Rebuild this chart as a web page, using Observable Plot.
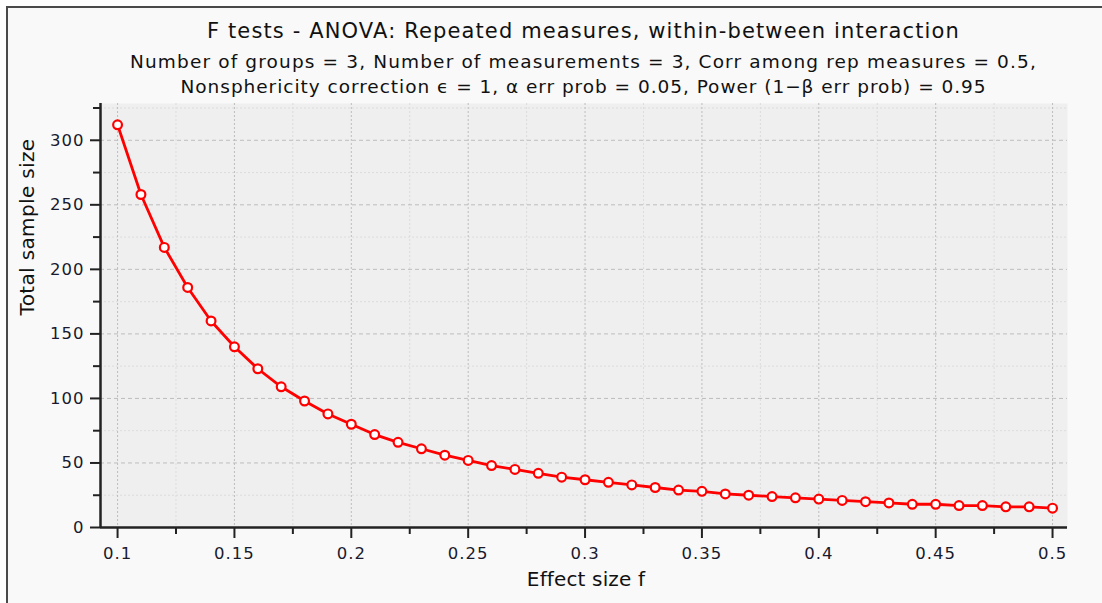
<!DOCTYPE html>
<html>
<head>
<meta charset="utf-8">
<script src="https://cdn.jsdelivr.net/npm/d3@7"></script>
<script src="https://cdn.jsdelivr.net/npm/@observablehq/plot@0.6"></script>
<style>
  html, body { margin: 0; padding: 0; background: #ffffff; overflow: hidden; }
  #wrap {
    position: absolute; left: 6px; top: 6px; width: 1150px; height: 650px;
    border-top: 2px solid #4a4a4a; border-left: 2px solid #4a4a4a;
    background: #f9f9f9; font-family: "DejaVu Sans", sans-serif; color: #111;
  }
  .t { position: absolute; left: 92px; width: 967px; text-align: center; white-space: nowrap; }
  .t span { display: inline-block; }
  #title { top: 11px; font-size: 21px; }
  #sub1 { top: 43px; font-size: 18.5px; }
  #sub2 { top: 68px; font-size: 18.5px; }
  #chart { position: absolute; left: 0; top: 84px; }
</style>
</head>
<body>
<div id="wrap">
  <div class="t" id="title"><span>F tests - ANOVA: Repeated measures, within-between interaction</span></div>
  <div class="t" id="sub1"><span>Number of groups = 3, Number of measurements = 3, Corr among rep measures = 0.5,</span></div>
  <div class="t" id="sub2"><span>Nonsphericity correction ϵ = 1, α err prob = 0.05, Power (1−β err prob) = 0.95</span></div>
  <div id="chart"></div>
</div>
<script>
const effectSize = [0.10,0.11,0.12,0.13,0.14,0.15,0.16,0.17,0.18,0.19,0.20,0.21,0.22,0.23,0.24,0.25,0.26,0.27,0.28,0.29,0.30,0.31,0.32,0.33,0.34,0.35,0.36,0.37,0.38,0.39,0.40,0.41,0.42,0.43,0.44,0.45,0.46,0.47,0.48,0.49,0.50];
const totalSampleSize = [312,258,217,186,160,140,123,109,98,88,80,72,66,61,56,52,48,45,42,39,37,35,33,31,29,28,26,25,24,23,22,21,20,19,18,18,17,17,16,16,15];
const xMajorTicks = [0.1,0.15,0.2,0.25,0.3,0.35,0.4,0.45,0.5];
const xTickLabels = ["0.1","0.15","0.2","0.25","0.3","0.35","0.4","0.45","0.5"];
const xMinorTicks = [0.125,0.175,0.225,0.275,0.325,0.375,0.425,0.475];
const yMajorTicks = [0,50,100,150,200,250,300];
const yMinorTicks = [25,75,125,175,225,275,325];
const xDomain = [0.0927, 0.5064];
const yDomain = [0, 328.5];
const xLabel = "Effect size f";
const yLabel = "Total sample size";

const data = effectSize.map((f, i) => ({f, n: totalSampleSize[i]}));
const xFmt = d => xTickLabels[xMajorTicks.indexOf(d)];
const tickColor = "#1a1a2e";

const chart = Plot.plot({
  width: 1094, height: 511,
  marginLeft: 92, marginRight: 35, marginTop: 11, marginBottom: 76,
  style: {background: "transparent", fontFamily: "DejaVu Sans, sans-serif", fontSize: "16px", color: tickColor},
  x: {domain: xDomain, axis: null},
  y: {domain: yDomain, axis: null},
  marks: [
    Plot.frame({fill: "#efefef", stroke: null}),
    Plot.gridY(yMinorTicks, {stroke: "#dcdcdc", strokeOpacity: 1, strokeDasharray: "2,2"}),
    Plot.gridX(xMinorTicks, {stroke: "#dcdcdc", strokeOpacity: 1, strokeDasharray: "2,2"}),
    Plot.gridY(yMajorTicks, {stroke: "#bdbdbd", strokeOpacity: 1, strokeDasharray: "4,3"}),
    Plot.gridX(xMajorTicks, {stroke: "#bdbdbd", strokeOpacity: 1, strokeDasharray: "2,2"}),
    Plot.axisY(yMinorTicks, {tickSize: 7, text: null, stroke: "#222", strokeWidth: 2, label: null}),
    Plot.axisY(yMajorTicks, {tickSize: 10, tickPadding: 6, stroke: "#222", strokeWidth: 2, fill: tickColor, fontSize: 16.5, label: null, className: "tick-y"}),
    Plot.axisX(xMinorTicks, {tickSize: 7, text: null, stroke: "#222", strokeWidth: 2, label: null}),
    Plot.axisX(xMajorTicks, {tickSize: 11, tickPadding: 9, tickFormat: xFmt, stroke: "#222", strokeWidth: 2, fill: tickColor, fontSize: 16.5, label: null, className: "tick-x"}),
    Plot.ruleX([xDomain[0]], {stroke: "#222", strokeWidth: 2.5}),
    Plot.ruleY([yDomain[0]], {stroke: "#222", strokeWidth: 2.5}),
    Plot.text([yLabel], {frameAnchor: "left", dx: -73, rotate: -90, fontSize: 20, fill: "#111", className: "lab-y"}),
    Plot.text([xLabel], {frameAnchor: "bottom", dx: 2, dy: 58, fontSize: 20, fill: "#111", className: "lab-x"}),
    Plot.line(data, {x: "f", y: "n", stroke: "#ff0000", strokeWidth: 2.8}),
    Plot.dot(data, {x: "f", y: "n", r: 4.4, fill: "#ffffff", stroke: "#ff0000", strokeWidth: 2.2})
  ]
});
document.getElementById("chart").appendChild(chart);

// widen letter spacing so text spans match the reference
function fitHtml(id, target) {
  const s = document.querySelector("#" + id + " span");
  const w = s.getBoundingClientRect().width;
  const n = s.textContent.length;
  s.style.letterSpacing = ((target - w) / n) + "px";
}
fitHtml("title", 753);
fitHtml("sub1", 907);
fitHtml("sub2", 806);
function fitSvg(sel, target) {
  chart.querySelectorAll(sel).forEach(t => {
    const w = t.getComputedTextLength();
    const n = t.textContent.length;
    t.style.letterSpacing = ((target - w) / n) + "px";
  });
}
fitSvg(".lab-y text", 177);
fitSvg(".lab-x text", 118);
chart.querySelectorAll(".tick-y text, .tick-x text").forEach(t => { t.style.letterSpacing = "1px"; });
</script>
</body>
</html>
